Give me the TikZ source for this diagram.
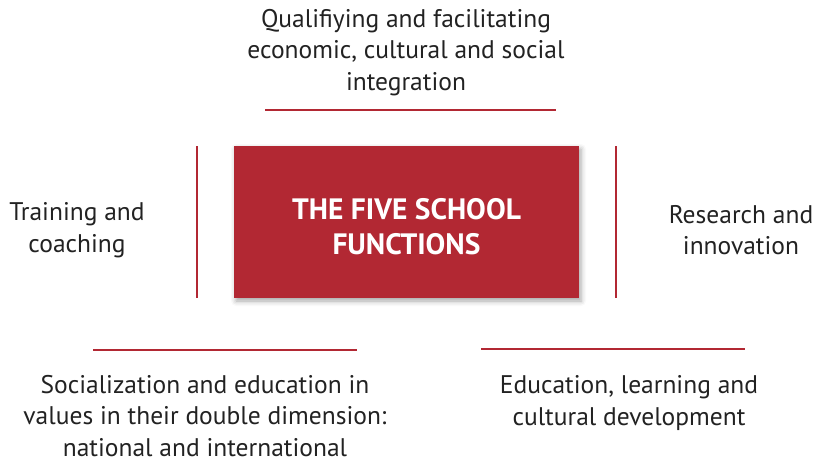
\documentclass[tikz,border=0pt]{standalone}
\usepackage{fontspec}
\setmainfont{PT Sans}
\usetikzlibrary{shadows.blur}
\definecolor{schoolred}{HTML}{B22833}
\definecolor{textgray}{HTML}{222222}
\tikzset{
  label text/.style={text=textgray, align=center, font=\fontsize{25.5}{31.5}\selectfont},
  red rule/.style={draw=schoolred, line width=1.6pt},
}
\begin{document}
\begin{tikzpicture}[x=1pt,y=-1pt]
  \useasboundingbox (0,0) rectangle (823,464);
  % central box
  \node[fill=schoolred, minimum width=345pt, minimum height=152pt,
        blur shadow={shadow xshift=2pt, shadow yshift=-3pt, shadow blur radius=5pt, shadow opacity=35}] (core) at (406.5,222) {};
  \node[text=white, align=center, font=\fontsize{29.5}{35}\selectfont\bfseries] (title) at ([yshift=-5pt]core.center) {THE FIVE SCHOOL\\FUNCTIONS};
  % the five functions
  \node[label text] (top) at (406,52.5) {Qualifiying and facilitating\\economic, cultural and social\\integration};
  \node[label text] (left) at (77,230) {Training and\\coaching};
  \node[label text] (right) at (741,230) {Research and\\innovation};
  \node[label text] (botleft) at (205,416) {Socialization and education in\\values in their double dimension:\\national and international};
  \node[label text] (botright) at (629,403) {Education, learning and\\cultural development};
  % rules
  \draw[red rule] (265,110) -- (556,110);
  \draw[red rule] (197,146) -- (197,298);
  \draw[red rule] (616,146) -- (616,298);
  \draw[red rule] (93,350) -- (357,350);
  \draw[red rule] (481,349) -- (745,349);
\end{tikzpicture}
\end{document}
